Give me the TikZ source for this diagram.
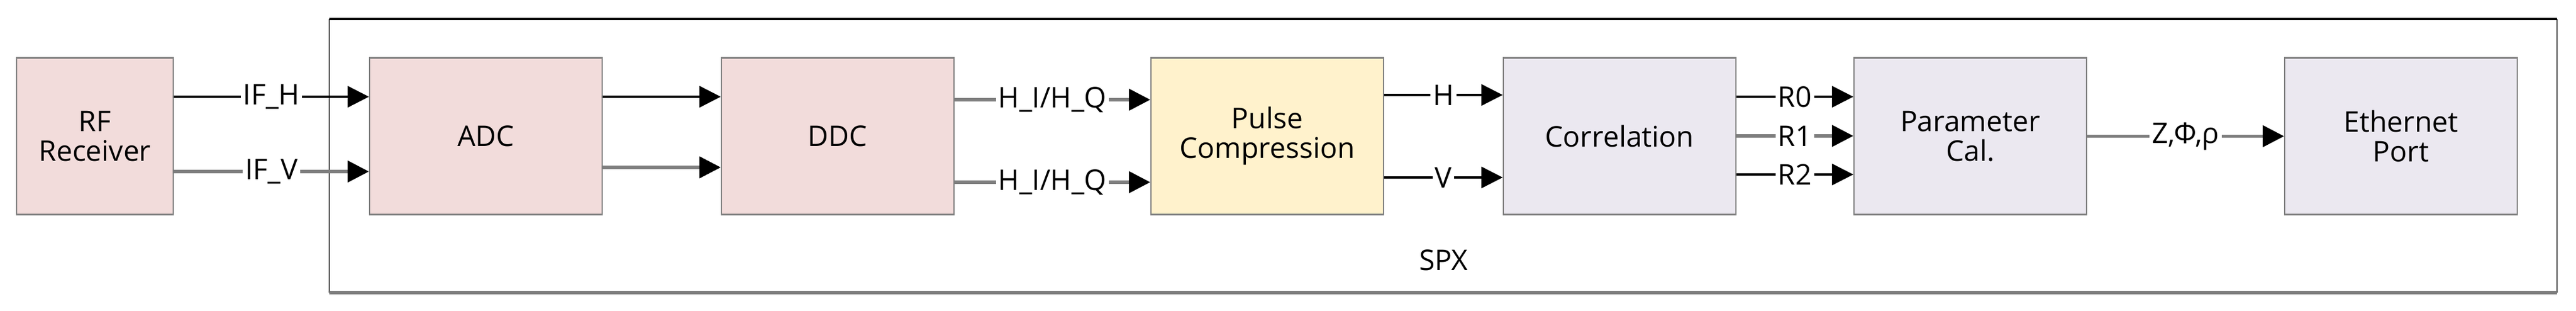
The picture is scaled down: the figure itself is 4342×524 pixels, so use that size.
\documentclass[tikz,border=0pt]{standalone}
\usepackage{fontspec}
\setmainfont{Open Sans}
\usetikzlibrary{arrows.meta,positioning}
\definecolor{edgegray}{HTML}{7F7F7F}
\definecolor{rxpink}{HTML}{F2DCDB}
\definecolor{pcyellow}{HTML}{FFF2CC}
\definecolor{dsplav}{HTML}{EBE8F0}

\begin{document}
\begin{tikzpicture}[x=0.25pt,y=-0.25pt,>={Triangle[length=9pt,width=9pt,color=black]},
  font=\fontsize{12}{14.5}\selectfont,
  block/.style={draw=edgegray,line width=0.6pt,minimum width=98pt,minimum height=66pt,
    align=center,inner sep=2pt,
    append after command={[draw=edgegray,line width=2.4pt]
      (\tikzlastnode.north west) -- (\tikzlastnode.north east)
      (\tikzlastnode.south west) -- (\tikzlastnode.south east)}},
  sig/.style={->,line width=0.8pt,black},
  sigg/.style={->,line width=1.3pt,edgegray},
  tag/.style={fill=white,inner sep=1pt,text=black}]

  \useasboundingbox (0,0) rectangle (4342,524);

  % SPX frame
  \draw[line width=0.5pt,black!70] (555,32) -- (555,493) (4310,32) -- (4310,493);
  \draw[line width=1pt] (555,32) -- (4310,32);
  \draw[line width=1.3pt,edgegray] (555,493) -- (4310,493);
  \node (spx) at (2433,438) {SPX};

  \node[block,fill=rxpink,minimum width=66pt] (rf) at (160,229.5) {RF\\[-2pt]Receiver};
  \node[block,fill=rxpink] (adc) at (819,229.5) {ADC};
  \node[block,fill=rxpink] (ddc) at (1412,229.5) {DDC};
  \node[block,fill=pcyellow] (pc) at (2136,229.5) {Pulse\\[-2pt]Compression};
  \node[block,fill=dsplav] (corr) at (2730,229.5) {Correlation};
  \node[block,fill=dsplav] (par) at (3321,229.5) {Parameter\\[-2pt]Cal.};
  \node[block,fill=dsplav] (eth) at (4047,229.5) {Ethernet\\[-2pt]Port};

  \draw[sig] (rf.east |- 0,163) -- node[tag] {IF\_H} (adc.west |- 0,163);
  \draw[sigg] (rf.east |- 0,289) -- node[tag] {IF\_V} (adc.west |- 0,289);
  \draw[sig] (adc.east |- 0,163) -- (ddc.west |- 0,163);
  \draw[sigg] (adc.east |- 0,282) -- (ddc.west |- 0,282);
  \draw[sigg] (ddc.east |- 0,168) -- node[tag] {H\_I/H\_Q} (pc.west |- 0,168);
  \draw[sigg] (ddc.east |- 0,307) -- node[tag] {H\_I/H\_Q} (pc.west |- 0,307);
  \draw[sig] (pc.east |- 0,160) -- node[tag] {H} (corr.west |- 0,160);
  \draw[sig] (pc.east |- 0,299) -- node[tag] {V} (corr.west |- 0,299);
  \draw[sig] (corr.east |- 0,163) -- node[tag] {R0} (par.west |- 0,163);
  \draw[sigg] (corr.east |- 0,229) -- node[tag] {R1} (par.west |- 0,229);
  \draw[sig] (corr.east |- 0,294) -- node[tag] {R2} (par.west |- 0,294);
  \draw[sigg] (par) -- node[tag] {Z,Φ,ρ} (eth);

\end{tikzpicture}
\end{document}
